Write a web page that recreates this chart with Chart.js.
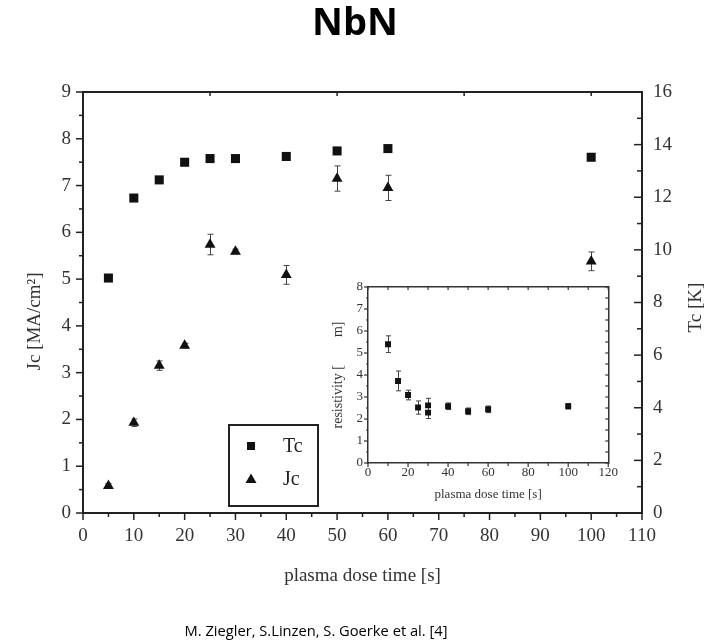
<!DOCTYPE html>
<html>
<head>
<meta charset="utf-8">
<script src="https://cdn.jsdelivr.net/npm/chart.js@4.4.1/dist/chart.umd.min.js"></script>
<style>
html,body{margin:0;padding:0;background:#fff;}
#wrap{position:relative;width:723px;height:644px;overflow:hidden;background:#fff;}
#main{position:absolute;left:0;top:0;}
#inset{position:absolute;left:320px;top:270px;}
#title{position:absolute;left:0;top:1px;width:710px;text-align:center;font-family:'Open Sans',sans-serif;font-weight:bold;font-size:38px;line-height:38px;color:#000;}
#caption{position:absolute;left:0;top:621px;width:632px;text-align:center;font-family:'Open Sans',sans-serif;font-size:14.7px;line-height:18px;color:#000;}
</style>
</head>
<body>
<div id="wrap">
  <canvas id="main" width="723" height="644"></canvas>
  <canvas id="inset" width="300" height="240"></canvas>
  <div id="title">NbN</div>
  <div id="caption">M. Ziegler, S.Linzen, S. Goerke et al. [4]</div>
</div>
<script>
// ---- data ----
const doseTimes = [5, 10, 15, 20, 25, 30, 40, 50, 60, 100];
const tcValues = [8.93, 11.97, 12.66, 13.33, 13.47, 13.47, 13.55, 13.76, 13.85, 13.52];
const jcValues = [0.58, 1.93, 3.15, 3.58, 5.74, 5.59, 5.09, 7.15, 6.95, 5.38];
const jcErrors = [0.05, 0.08, 0.10, 0.05, 0.22, 0.05, 0.20, 0.27, 0.27, 0.20];
const insetTimes = [10, 15, 20, 25, 30, 30, 40, 50, 60, 100];
const resistivity = [5.40, 3.73, 3.09, 2.52, 2.62, 2.29, 2.58, 2.35, 2.44, 2.58];
const resistivityErrors = [0.38, 0.45, 0.22, 0.30, 0.32, 0.27, 0.15, 0.15, 0.15, 0.12];
const mainXTicks = [0, 10, 20, 30, 40, 50, 60, 70, 80, 90, 100, 110];
const jcTicks = [0, 1, 2, 3, 4, 5, 6, 7, 8, 9];
const tcTicks = [0, 2, 4, 6, 8, 10, 12, 14, 16];
const insetXTicks = [0, 20, 40, 60, 80, 100, 120];
const insetYTicks = [0, 1, 2, 3, 4, 5, 6, 7, 8];

const SERIF = "'Liberation Serif','Times New Roman',serif";
const INK = '#222';

function pts(xs, ys) { return xs.map((x, i) => ({x: x, y: ys[i]})); }

// error bars drawn from each dataset's errorBars array through the scales
const errorBarPlugin = {
  id: 'errorBars',
  beforeDatasetsDraw(chart) {
    const ctx = chart.ctx;
    chart.data.datasets.forEach((ds, di) => {
      if (!ds.errorBars) return;
      const meta = chart.getDatasetMeta(di);
      const xs = chart.scales[meta.xAxisID];
      const ys = chart.scales[meta.yAxisID];
      const cap = ds.errorCap || 3;
      ctx.save();
      ctx.strokeStyle = '#444';
      ctx.lineWidth = 1;
      ds.data.forEach((p, i) => {
        const e = ds.errorBars[i];
        if (!e) return;
        const px = Math.round(xs.getPixelForValue(p.x)) + 0.5;
        const yt = ys.getPixelForValue(p.y + e);
        const yb = ys.getPixelForValue(p.y - e);
        ctx.beginPath();
        ctx.moveTo(px, yt); ctx.lineTo(px, yb);
        ctx.moveTo(px - cap, yt); ctx.lineTo(px + cap, yt);
        ctx.moveTo(px - cap, yb); ctx.lineTo(px + cap, yb);
        ctx.stroke();
      });
      ctx.restore();
    });
  }
};

// major / minor tick marks drawn from the scales
const tickMarkPlugin = {
  id: 'tickMarks',
  afterDraw(chart, args, opts) {
    const ctx = chart.ctx;
    const area = chart.chartArea;
    ctx.save();
    ctx.strokeStyle = opts.color || INK;
    ctx.lineWidth = opts.width || 1.5;
    (opts.specs || []).forEach(spec => {
      const sc = chart.scales[spec.scale];
      const n = Math.round((sc.max - sc.min) / spec.step);
      for (let i = 0; i <= n; i++) {
        const v = sc.min + i * spec.step;
        const r = v / spec.majorEvery;
        const major = Math.abs(r - Math.round(r)) < 1e-6;
        const len = major ? spec.majorLen : spec.minorLen;
        if (!len) continue;
        const p = sc.getPixelForValue(v);
        ctx.beginPath();
        if (spec.edge === 'bottom' || spec.edge === 'top') {
          const y0 = spec.edge === 'bottom' ? area.bottom : area.top;
          const out = spec.edge === 'bottom' ? 1 : -1;
          const s = spec.inward ? -out : out;
          ctx.moveTo(p, y0); ctx.lineTo(p, y0 + s * len);
        } else {
          const x0 = spec.edge === 'left' ? area.left : area.right;
          const out = spec.edge === 'left' ? -1 : 1;
          const s = spec.inward ? -out : out;
          ctx.moveTo(x0, p); ctx.lineTo(x0 + s * len, p);
        }
        ctx.stroke();
      }
    });
    ctx.restore();
  }
};

// legend box inside the plot, built from the datasets
const boxLegendPlugin = {
  id: 'boxLegend',
  afterDraw(chart, args, o) {
    if (!o || !o.display) return;
    const ctx = chart.ctx;
    ctx.save();
    ctx.strokeStyle = INK;
    ctx.lineWidth = 2;
    ctx.strokeRect(o.x, o.y, o.w, o.h);
    ctx.font = o.font;
    ctx.textBaseline = 'middle';
    ctx.fillStyle = '#222';
    chart.data.datasets.forEach((ds, i) => {
      const cy = o.y + o.firstRow + i * o.rowGap;
      const cx = o.markerX;
      ctx.fillStyle = ds.backgroundColor;
      ctx.beginPath();
      if (ds.pointStyle === 'rect') {
        ctx.rect(cx - 4, cy - 4, 8, 8);
      } else {
        ctx.moveTo(cx, cy - 5.5); ctx.lineTo(cx + 5.5, cy + 4); ctx.lineTo(cx - 5.5, cy + 4); ctx.closePath();
      }
      ctx.fill();
      ctx.fillStyle = '#222';
      ctx.fillText(ds.label, o.textX, cy + 1);
    });
    ctx.restore();
  }
};

// right-axis title drawn reading upward, like the reference
const rightTitlePlugin = {
  id: 'rightTitle',
  afterDraw(chart, args, o) {
    if (!o || !o.text) return;
    const ctx = chart.ctx;
    const area = chart.chartArea;
    ctx.save();
    ctx.translate(o.x, (area.top + area.bottom) / 2 + (o.dy || 0));
    ctx.rotate(-Math.PI / 2);
    ctx.font = o.font;
    ctx.fillStyle = '#333';
    ctx.textAlign = 'center';
    ctx.textBaseline = 'middle';
    ctx.fillText(o.text, 0, 0);
    ctx.restore();
  }
};

function fixW(w) { return s => { s.width = w; }; }
function fixH(h) { return s => { s.height = h; }; }

new Chart(document.getElementById('main'), {
  type: 'scatter',
  data: {
    datasets: [
      {label: 'Tc', data: pts(doseTimes, tcValues), yAxisID: 'y2', xAxisID: 'x',
       pointStyle: 'rect', pointRadius: 6.4, pointHoverRadius: 6.4,
       backgroundColor: '#111', borderColor: '#111', borderWidth: 0, showLine: false},
      {label: 'Jc', data: pts(doseTimes, jcValues), yAxisID: 'y', xAxisID: 'x',
       errorBars: jcErrors, errorCap: 3,
       pointStyle: 'triangle', pointRadius: 6.3, pointHoverRadius: 6.3,
       backgroundColor: '#111', borderColor: '#111', borderWidth: 0, showLine: false}
    ]
  },
  options: {
    responsive: false, animation: false, events: [],
    layout: {padding: 0},
    plugins: {
      legend: {display: false}, tooltip: {enabled: false},
      boxLegend: {display: true, x: 229, y: 425, w: 89, h: 81, markerX: 251, textX: 283,
                  firstRow: 21, rowGap: 33, font: "20px " + SERIF},
      rightTitle: {text: 'Tc [K]', x: 696, dy: 5, font: "19px " + SERIF},
      tickMarks: {color: INK, width: 1.5, specs: [
        {scale: 'x', edge: 'bottom', step: 5, majorEvery: 10, majorLen: 7, minorLen: 4},
        {scale: 'x2', edge: 'top', step: 25, majorEvery: 25, majorLen: 4, minorLen: 4, inward: true},
        {scale: 'y', edge: 'left', step: 0.5, majorEvery: 1, majorLen: 7, minorLen: 4},
        {scale: 'y2', edge: 'right', step: 1, majorEvery: 2, majorLen: 8, minorLen: 5, inward: true}
      ]}
    },
    scales: {
      x: {type: 'linear', position: 'bottom', min: 0, max: 110, afterFit: fixH(131),
          afterBuildTicks: s => { s.ticks = mainXTicks.map(v => ({value: v})); },
          grid: {display: false, drawTicks: false},
          border: {display: true, color: INK, width: 2},
          ticks: {autoSkip: false, maxRotation: 0, padding: 12, color: '#333', font: {family: SERIF, size: 19}},
          title: {display: true, text: 'plasma dose time [s]', color: '#333', font: {family: SERIF, size: 19}, padding: {top: 0, bottom: 57}}},
      x2: {type: 'linear', position: 'top', min: 0, max: 110, afterFit: fixH(92),
          grid: {display: false, drawTicks: false},
          border: {display: true, color: INK, width: 2},
          ticks: {display: false}},
      y: {type: 'linear', position: 'left', min: 0, max: 9, afterFit: fixW(83),
          afterBuildTicks: s => { s.ticks = jcTicks.map(v => ({value: v})); },
          grid: {display: false, drawTicks: false},
          border: {display: true, color: INK, width: 2},
          ticks: {autoSkip: false, padding: 12, color: '#333', font: {family: SERIF, size: 19}},
          title: {display: true, text: 'Jc [MA/cm²]\u00a0\u00a0\u00a0\u00a0\u00a0\u00a0\u00a0\u00a0', color: '#333', font: {family: SERIF, size: 19}, padding: {top: 24, bottom: 0}}},
      y2: {type: 'linear', position: 'right', min: 0, max: 16, afterFit: fixW(81),
          afterBuildTicks: s => { s.ticks = tcTicks.map(v => ({value: v})); },
          grid: {display: false, drawTicks: false},
          border: {display: true, color: INK, width: 2},
          ticks: {autoSkip: false, padding: 11, color: '#333', font: {family: SERIF, size: 19}},
          title: {display: false, text: 'Tc [K]'}}
    }
  },
  plugins: [errorBarPlugin, tickMarkPlugin, boxLegendPlugin, rightTitlePlugin]
});

new Chart(document.getElementById('inset'), {
  type: 'scatter',
  data: {
    datasets: [
      {label: 'resistivity', data: pts(insetTimes, resistivity), errorBars: resistivityErrors, errorCap: 2.5,
       pointStyle: 'rect', pointRadius: 4.2, pointHoverRadius: 4.2,
       backgroundColor: '#111', borderColor: '#111', borderWidth: 0, showLine: false}
    ]
  },
  options: {
    responsive: false, animation: false, events: [],
    layout: {padding: {top: 17, right: 0, left: 0, bottom: 0}},
    plugins: {
      legend: {display: false}, tooltip: {enabled: false},
      tickMarks: {color: '#333', width: 1.2, specs: [
        {scale: 'x', edge: 'bottom', step: 10, majorEvery: 20, majorLen: 4, minorLen: 3},
        {scale: 'x2', edge: 'top', step: 10, majorEvery: 20, majorLen: 3, minorLen: 3, inward: true},
        {scale: 'y', edge: 'left', step: 0.5, majorEvery: 1, majorLen: 4, minorLen: 2},
        {scale: 'y2', edge: 'right', step: 0.5, majorEvery: 1, majorLen: 3, minorLen: 3, inward: true}
      ]}
    },
    scales: {
      x: {type: 'linear', position: 'bottom', min: 0, max: 120, afterFit: fixH(47),
          afterBuildTicks: s => { s.ticks = insetXTicks.map(v => ({value: v})); },
          grid: {display: false, drawTicks: false},
          border: {display: true, color: '#333', width: 1.5},
          ticks: {autoSkip: false, maxRotation: 0, padding: 2, color: '#333', font: {family: SERIF, size: 13}},
          title: {display: true, text: 'plasma dose time [s]', color: '#333', font: {family: SERIF, size: 13}, padding: {top: 0, bottom: 8}}},
      x2: {type: 'linear', position: 'top', min: 0, max: 120, afterFit: fixH(0),
          grid: {display: false, drawTicks: false},
          border: {display: true, color: '#333', width: 1.5},
          ticks: {display: false}},
      y: {type: 'linear', position: 'left', min: 0, max: 8, afterFit: fixW(48),
          afterBuildTicks: s => { s.ticks = insetYTicks.map(v => ({value: v})); },
          grid: {display: false, drawTicks: false},
          border: {display: true, color: '#333', width: 1.5},
          ticks: {autoSkip: false, padding: 5, color: '#333', font: {family: SERIF, size: 13}},
          title: {display: true, text: 'resistivity [        m]', color: '#333', font: {family: SERIF, size: 14}, padding: {top: 10, bottom: 0}}},
      y2: {type: 'linear', position: 'right', min: 0, max: 8, afterFit: fixW(7),
          grid: {display: false, drawTicks: false},
          border: {display: true, color: '#333', width: 1.5},
          ticks: {display: false}}
    }
  },
  plugins: [errorBarPlugin, tickMarkPlugin]
});
</script>
</body>
</html>
